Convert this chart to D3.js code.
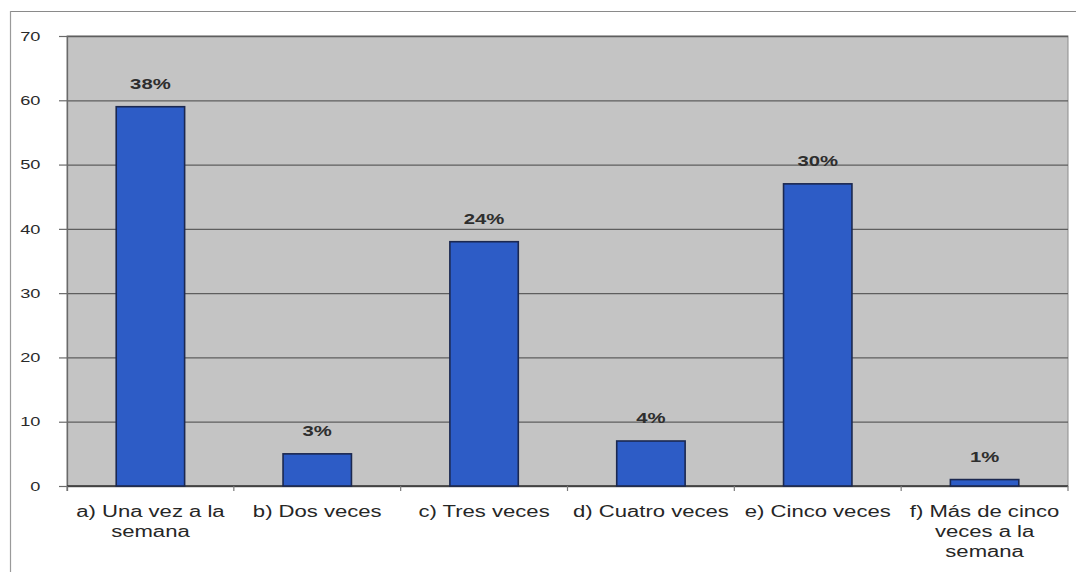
<!DOCTYPE html>
<html>
<head>
<meta charset="utf-8">
<script src="https://cdn.jsdelivr.net/npm/d3@7"></script>
<style>
  html, body { margin: 0; padding: 0; background: #ffffff; }
  svg { display: block; font-family: "Liberation Sans", Arial, Helvetica, sans-serif; }
</style>
</head>
<body>
<svg id="chart" width="1076" height="572"></svg>
<script>
// Frequency of answers, with the share of each answer shown above its bar
const categories = [
  "a) Una vez a la\nsemana",
  "b) Dos veces",
  "c) Tres veces",
  "d) Cuatro veces",
  "e) Cinco veces",
  "f) Más de cinco\nveces a la\nsemana"
];
const counts = [59, 5, 38, 7, 47, 1];
const shareLabels = ["38%", "3%", "24%", "4%", "30%", "1%"];
const yTicks = [0, 10, 20, 30, 40, 50, 60, 70];

const W = 1076, H = 572;
const plot = { left: 67, right: 1068, top: 36, bottom: 486 };
const stretch = 1.38;   // wide lettering used throughout the chart

const svg = d3.select("#chart");

// outer frame (top and left edges)
svg.append("line").attr("x1", 10).attr("x2", W).attr("y1", 11.5).attr("y2", 11.5)
  .attr("stroke", "#8a8a8a").attr("stroke-width", 1.2);
svg.append("line").attr("x1", 10.5).attr("x2", 10.5).attr("y1", 11).attr("y2", H)
  .attr("stroke", "#9a9a9a").attr("stroke-width", 1.2);

const x = d3.scaleBand().domain(categories).range([plot.left, plot.right]).padding(0);
const y = d3.scaleLinear().domain([0, 70]).range([plot.bottom, plot.top]);

// plot area
svg.append("rect")
  .attr("x", plot.left).attr("y", plot.top)
  .attr("width", plot.right - plot.left).attr("height", plot.bottom - plot.top)
  .attr("fill", "#c4c4c4")
  .attr("stroke", "#8c8c8c").attr("stroke-width", 1);

// horizontal gridlines
const grid = svg.append("g").attr("transform", `translate(${plot.left},0)`)
  .call(d3.axisLeft(y).tickValues(yTicks).tickSize(-(plot.right - plot.left)).tickFormat(""));
grid.select(".domain").remove();
grid.selectAll(".tick line").attr("stroke", "#5e5e5e").attr("stroke-width", 1.3);

// y axis
const yAxis = svg.append("g").attr("transform", `translate(${plot.left},0)`)
  .call(d3.axisLeft(y).tickValues(yTicks).tickSize(8).tickPadding(11));
yAxis.select(".domain").attr("stroke", "#6a6a6a").attr("stroke-width", 1.3)
  .attr("d", `M0.5,${plot.top}V${plot.bottom + 5}`);
yAxis.selectAll(".tick line").attr("stroke", "#6a6a6a").attr("stroke-width", 1.2);
yAxis.selectAll(".tick text")
  .attr("font-size", 13).attr("fill", "#2a2a2a")
  .attr("font-family", "Liberation Sans, Arial, sans-serif")
  .attr("transform", "scale(1.4,1)");

// x axis baseline and category boundary ticks
svg.append("line")
  .attr("x1", plot.left).attr("x2", plot.right)
  .attr("y1", y(0)).attr("y2", y(0))
  .attr("stroke", "#3a3a3a").attr("stroke-width", 1.6);
const bounds = categories.map(c => x(c)).concat([plot.right]);
svg.append("g").selectAll("line").data(bounds).join("line")
  .attr("x1", d => d).attr("x2", d => d)
  .attr("y1", y(0)).attr("y2", y(0) + 5)
  .attr("stroke", "#7a7a7a").attr("stroke-width", 1.2);

// bars
const barW = x.bandwidth() * 0.41;
svg.append("g").selectAll("rect").data(categories).join("rect")
  .attr("x", c => x(c) + (x.bandwidth() - barW) / 2)
  .attr("y", (c, i) => y(counts[i]))
  .attr("width", barW)
  .attr("height", (c, i) => y(0) - y(counts[i]))
  .attr("fill", "#2d5cc6")
  .attr("stroke", "#1b2850").attr("stroke-width", 1.6);

// share labels above bars
svg.append("g").selectAll("text").data(categories).join("text")
  .attr("transform", (c, i) =>
    `translate(${x(c) + x.bandwidth() / 2},${y(counts[i]) - 18}) scale(1.45,1)`)
  .attr("text-anchor", "middle")
  .attr("font-size", 14).attr("font-weight", "bold")
  .attr("fill", "#2e2e2e")
  .text((c, i) => shareLabels[i]);

// category labels, one line per break
const labels = svg.append("g").selectAll("g").data(categories).join("g")
  .attr("transform", c => `translate(${x(c) + x.bandwidth() / 2},517) scale(${stretch},1)`);
labels.each(function (c) {
  const g = d3.select(this);
  c.split("\n").forEach((line, k) => {
    g.append("text")
      .attr("y", k * 20)
      .attr("text-anchor", "middle")
      .attr("font-size", 16)
      .attr("fill", "#262626")
      .text(line);
  });
});
</script>
</body>
</html>
